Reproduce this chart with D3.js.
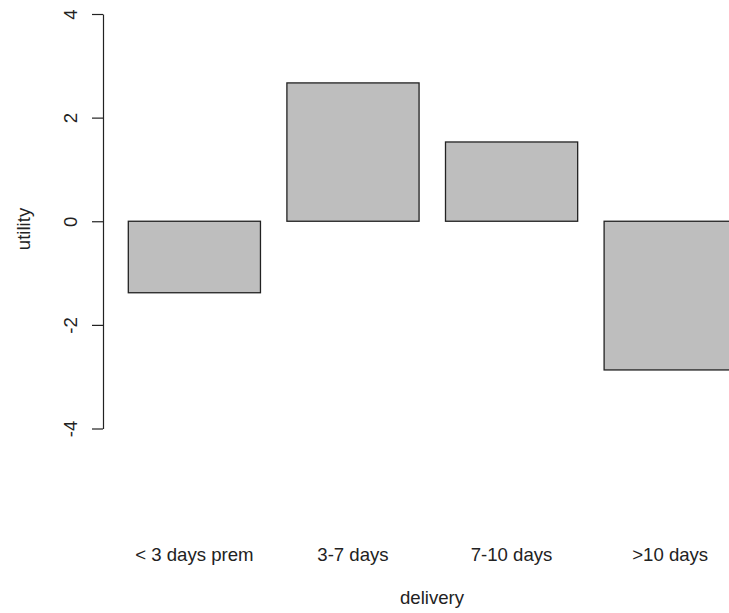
<!DOCTYPE html>
<html>
<head>
<meta charset="utf-8">
<script src="https://cdn.jsdelivr.net/npm/d3@7"></script>
<style>
  body { margin: 0; background: #fff; }
  svg { display: block; overflow: hidden; }
  text { font-family: "Liberation Sans", Arial, sans-serif; fill: #222; }
</style>
</head>
<body>
<svg width="729" height="613"></svg>
<script>
const categories = ["< 3 days prem", "3-7 days", "7-10 days", ">10 days"];
const utility = [-1.38, 2.67, 1.53, -2.87];
const yTicks = [-4, -2, 0, 2, 4];

const svg = d3.select("svg");
const fontSize = 18.6;

// bars: width 132, gap = 0.2 * width (R barplot default space)
const x = d3.scaleBand()
    .domain(categories)
    .range([128.3, 128.3 + 158.6 * (4 - 1 / 6)])
    .paddingInner(1 / 6)
    .paddingOuter(0);

const y = d3.scaleLinear().domain([-4, 4]).range([428.5, 14]);

svg.append("g")
    .selectAll("rect")
    .data(utility)
    .enter().append("rect")
    .attr("x", (d, i) => x(categories[i]))
    .attr("y", d => y(Math.max(0, d)))
    .attr("width", x.bandwidth())
    .attr("height", d => Math.abs(y(d) - y(0)))
    .attr("fill", "#bebebe")
    .attr("stroke", "#222")
    .attr("stroke-width", 1.3);

// y axis, R style: plain hyphen minus, labels rotated
const yAxis = svg.append("g")
    .attr("transform", "translate(103,0)")
    .call(d3.axisLeft(y).tickValues(yTicks).tickSize(11).tickSizeOuter(0).tickFormat(d => String(d)));

yAxis.select(".domain").attr("stroke", "#222").attr("stroke-width", 1.2);
yAxis.selectAll(".tick line").attr("stroke", "#222").attr("stroke-width", 1.2);
yAxis.selectAll(".tick text")
    .attr("transform", "rotate(-90)")
    .attr("x", 0)
    .attr("y", -26)
    .attr("dy", 0)
    .attr("text-anchor", "middle")
    .style("font-family", "'Liberation Sans', Arial, sans-serif")
    .style("font-size", fontSize + "px")
    .attr("fill", "#222");

// category labels
svg.append("g")
    .selectAll("text")
    .data(categories)
    .enter().append("text")
    .attr("x", d => x(d) + x.bandwidth() / 2)
    .attr("y", 561)
    .attr("text-anchor", "middle")
    .style("font-size", fontSize + "px")
    .text(d => d);

// axis titles
svg.append("text")
    .attr("x", 432)
    .attr("y", 604)
    .attr("text-anchor", "middle")
    .style("font-size", fontSize + "px")
    .text("delivery");

svg.append("text")
    .attr("transform", "translate(30,229) rotate(-90)")
    .attr("text-anchor", "middle")
    .style("font-size", fontSize + "px")
    .text("utility");
</script>
</body>
</html>
